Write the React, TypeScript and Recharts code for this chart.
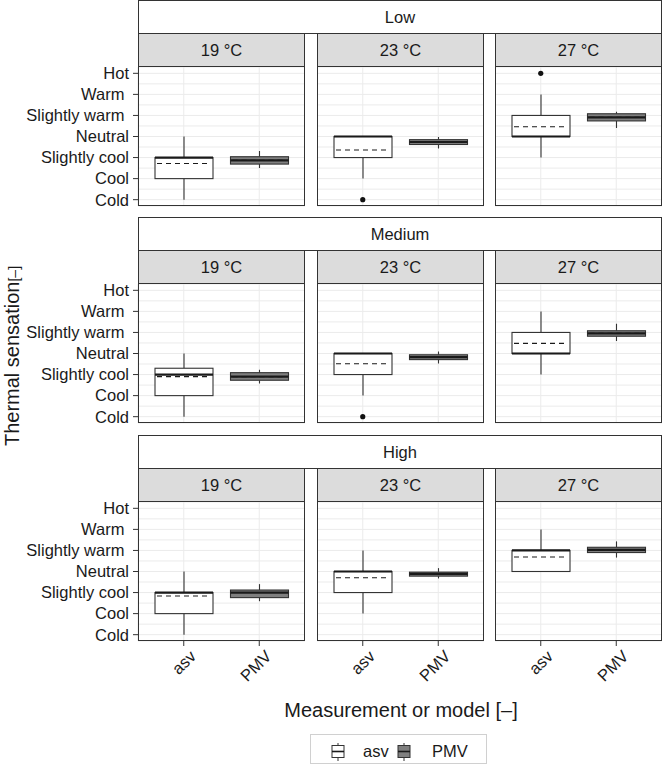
import React from 'react'
import { ComposedChart, Bar, Scatter, XAxis, YAxis, CartesianGrid } from 'recharts'

const ROWS = ['Low', 'Medium', 'High']
const TEMPS = ['19 °C', '23 °C', '27 °C']
const MODELS = ['asv', 'PMV']
const SENSATION_TICKS = [-3, -2, -1, 0, 1, 2, 3]
const SENSATION_LABELS = ['Cold', 'Cool', 'Slightly cool', 'Neutral', 'Slightly warm\u00a0', 'Warm\u00a0', 'Hot']
const GRID_LEVELS = [-3, -2.5, -2, -1.5, -1, -0.5, 0, 0.5, 1, 1.5, 2, 2.5, 3]

// box stats per temperature (19, 23, 27 °C): [min, q1, median, q3, max, mean]
const lowAsv = [
  [-3, -2, -1, -1, 0, -1.28],
  [-2, -1, 0, 0, 0, -0.64],
  [-1, 0, 0, 1, 2, 0.46],
]
const lowPmv = [
  [-1.5, -1.31, -1.13, -0.96, -0.69, -1.13],
  [-0.57, -0.38, -0.26, -0.15, -0.02, -0.26],
  [0.4, 0.74, 0.91, 1.08, 1.18, 0.91],
]
const mediumAsv = [
  [-3, -2, -1, -0.7, 0, -1.1],
  [-2, -1, 0, 0, 0, -0.49],
  [-1, 0, 0, 1, 2, 0.48],
]
const mediumPmv = [
  [-1.42, -1.27, -1.1, -0.91, -0.77, -1.1],
  [-0.48, -0.29, -0.17, -0.06, 0.1, -0.17],
  [0.59, 0.82, 0.96, 1.08, 1.41, 0.96],
]
const highAsv = [
  [-3, -2, -1, -1, 0, -1.16],
  [-2, -1, 0, 0, 1, -0.3],
  [0, 0, 1, 1, 2, 0.69],
]
const highPmv = [
  [-1.41, -1.24, -1.0, -0.88, -0.6, -1.0],
  [-0.33, -0.22, -0.11, -0.03, 0.16, -0.11],
  [0.66, 0.9, 1.03, 1.15, 1.43, 1.03],
]
// asv outliers per temperature (null = none)
const lowOutliers = [null, -3, 3]
const mediumOutliers = [null, -3, null]
const highOutliers = [null, null, null]

const ASV = [lowAsv, mediumAsv, highAsv]
const PMV = [lowPmv, mediumPmv, highPmv]
const OUTLIERS = [lowOutliers, mediumOutliers, highOutliers]

const FONT = '"Liberation Sans", Arial, Helvetica, sans-serif'
const TEXT = '#1a1a1a'
const LINE = '#333333'

const COL_X = [138, 317, 495]
const ROW_Y = [0, 217, 435]
const PANEL_W = 167
const PANEL_H = 139
const STRIP_H = 34
const SUB_H = 33
const PAD = 12 // spare room above/below the plot so edge tick labels are not clipped

const BoxShape = (props: any) => {
  const { x, y, width, height, payload } = props
  if (!payload || !payload.stats) return null
  const [min, q1, med, q3, max, mean] = payload.stats
  const top = Math.min(y, y + height)
  const bottom = Math.max(y, y + height)
  const toY = (v: number) => top + ((max - v) / (max - min)) * (bottom - top)
  const cx = x + width / 2
  const fill = payload.model === 'PMV' ? '#7f7f7f' : '#ffffff'
  return (
    <g>
      <line x1={cx} x2={cx} y1={toY(max)} y2={toY(q3)} stroke={LINE} strokeWidth={1.1} />
      <line x1={cx} x2={cx} y1={toY(q1)} y2={toY(min)} stroke={LINE} strokeWidth={1.1} />
      <rect x={x} y={toY(q3)} width={width} height={toY(q1) - toY(q3)} fill={fill} stroke={LINE} strokeWidth={1.1} />
      <line x1={x} x2={x + width} y1={toY(med)} y2={toY(med)} stroke="#1a1a1a" strokeWidth={2.2} />
      <line x1={x + 2} x2={x + width - 2} y1={toY(mean)} y2={toY(mean)} stroke="#1a1a1a" strokeWidth={1.1} strokeDasharray="5 4" />
    </g>
  )
}

const OutlierDot = (props: any) => {
  const { cx, cy, payload } = props
  if (!payload || payload.outlier == null || cx == null || cy == null) return <g />
  return <circle cx={cx} cy={cy} r={2.6} fill="#111" />
}

const XTick = (props: any) => {
  const { x, y, payload } = props
  return (
    <g transform={`translate(${x + 5},${y + 1})`}>
      <text transform="rotate(-45)" textAnchor="end" dy="0.71em" fontSize={16.5} fill={TEXT} fontFamily={FONT}>
        {payload.value}
      </text>
    </g>
  )
}

function Panel({ row, col }: { row: number; col: number }) {
  const isLeft = col === 0
  const isBottom = row === ROWS.length - 1
  const data = [
    { model: MODELS[0], range: [ASV[row][col][0], ASV[row][col][4]], stats: ASV[row][col], outlier: OUTLIERS[row][col] },
    { model: MODELS[1], range: [PMV[row][col][0], PMV[row][col][4]], stats: PMV[row][col], outlier: null },
  ]
  const top = ROW_Y[row] + STRIP_H + SUB_H - PAD
  return (
    <div style={{ position: 'absolute', left: isLeft ? 0 : COL_X[col], top }}>
      <ComposedChart
        width={isLeft ? COL_X[0] + PANEL_W : PANEL_W}
        height={PANEL_H + 2 * PAD + (isBottom ? 50 : 0)}
        data={data}
        margin={{ top: PAD, right: 0, bottom: PAD, left: 0 }}
      >
        <CartesianGrid stroke="#ebebeb" strokeWidth={1} yAxisId="grid" />
        <XAxis
          dataKey="model"
          type="category"
          padding={{ left: 8, right: 8 }}
          hide={!isBottom}
          height={50}
          interval={0}
          axisLine={false}
          tickLine={{ stroke: LINE }}
          tickSize={5}
          tickMargin={2}
          tick={<XTick />}
        />
        <YAxis
          yAxisId="grid"
          type="number"
          domain={[-3.3, 3.3]}
          allowDataOverflow
          ticks={GRID_LEVELS}
          interval={0}
          hide
        />
        <YAxis
          type="number"
          domain={[-3.3, 3.3]}
          allowDataOverflow
          ticks={SENSATION_TICKS}
          interval={0}
          hide={!isLeft}
          width={COL_X[0]}
          axisLine={false}
          tickLine={{ stroke: LINE }}
          tickSize={5}
          tickMargin={4}
          tickFormatter={(v: number) => SENSATION_LABELS[SENSATION_TICKS.indexOf(v)]}
          tick={{ fontSize: 16.5, fill: TEXT, fontFamily: FONT }}
        />
        <Bar dataKey="range" barSize={58} shape={(p: any) => <BoxShape {...p} />} isAnimationActive={false} />
        <Scatter dataKey="outlier" shape={(p: any) => <OutlierDot {...p} />} isAnimationActive={false} />
      </ComposedChart>
    </div>
  )
}

const stripStyle: React.CSSProperties = {
  position: 'absolute',
  boxSizing: 'border-box',
  border: `1px solid ${LINE}`,
  display: 'flex',
  alignItems: 'center',
  justifyContent: 'center',
  fontSize: 16.5,
  color: TEXT,
  fontFamily: FONT,
}

export default function App() {
  const right = COL_X[2] + PANEL_W
  return (
    <div style={{ position: 'absolute', left: 0, top: 0, width: 664, height: 773, background: '#fff', fontFamily: FONT }}>
      {ROWS.map((rowName, r) => (
        <React.Fragment key={rowName}>
          <div style={{ ...stripStyle, left: COL_X[0], top: ROW_Y[r], width: right - COL_X[0], height: STRIP_H, background: '#fff' }}>
            {rowName}
          </div>
          {TEMPS.map((t, c) => (
            <React.Fragment key={t}>
              <Panel row={r} col={c} />
              <div style={{ ...stripStyle, left: COL_X[c], top: ROW_Y[r] + STRIP_H - 1, width: PANEL_W, height: SUB_H + 1, background: '#dcdcdc' }}>
                {t}
              </div>
              <div
                style={{
                  position: 'absolute',
                  boxSizing: 'border-box',
                  left: COL_X[c],
                  top: ROW_Y[r] + STRIP_H + SUB_H - 1,
                  width: PANEL_W,
                  height: PANEL_H + 1,
                  border: `1px solid ${LINE}`,
                  pointerEvents: 'none',
                }}
              />
            </React.Fragment>
          ))}
        </React.Fragment>
      ))}
      <svg width={664} height={773} style={{ position: 'absolute', left: 0, top: 0, pointerEvents: 'none' }}>
        <text transform="translate(19,356) rotate(-90)" textAnchor="middle" fontSize={20} fill={TEXT} fontFamily={FONT}>
          Thermal sensation<tspan fontSize={14}>[–]</tspan>
        </text>
        <text x={401} y={717} textAnchor="middle" fontSize={20} fill={TEXT} fontFamily={FONT}>
          Measurement or model [–]
        </text>
        <rect x={310.5} y={734.5} width={176} height={29} fill="#fff" stroke="#d0d0d0" />
        <line x1={338} x2={338} y1={743} y2={761} stroke={LINE} />
        <rect x={332} y={745.5} width={12} height={12} fill="#fff" stroke={LINE} />
        <line x1={332} x2={344} y1={751.5} y2={751.5} stroke="#1a1a1a" strokeWidth={1.6} />
        <text x={363} y={757} fontSize={16.5} fill={TEXT} fontFamily={FONT}>asv</text>
        <line x1={404} x2={404} y1={743} y2={761} stroke={LINE} />
        <rect x={398} y={745.5} width={12} height={12} fill="#7f7f7f" stroke={LINE} />
        <line x1={398} x2={410} y1={751.5} y2={751.5} stroke="#1a1a1a" strokeWidth={1.6} />
        <text x={432} y={757} fontSize={16.5} fill={TEXT} fontFamily={FONT}>PMV</text>
      </svg>
    </div>
  )
}
